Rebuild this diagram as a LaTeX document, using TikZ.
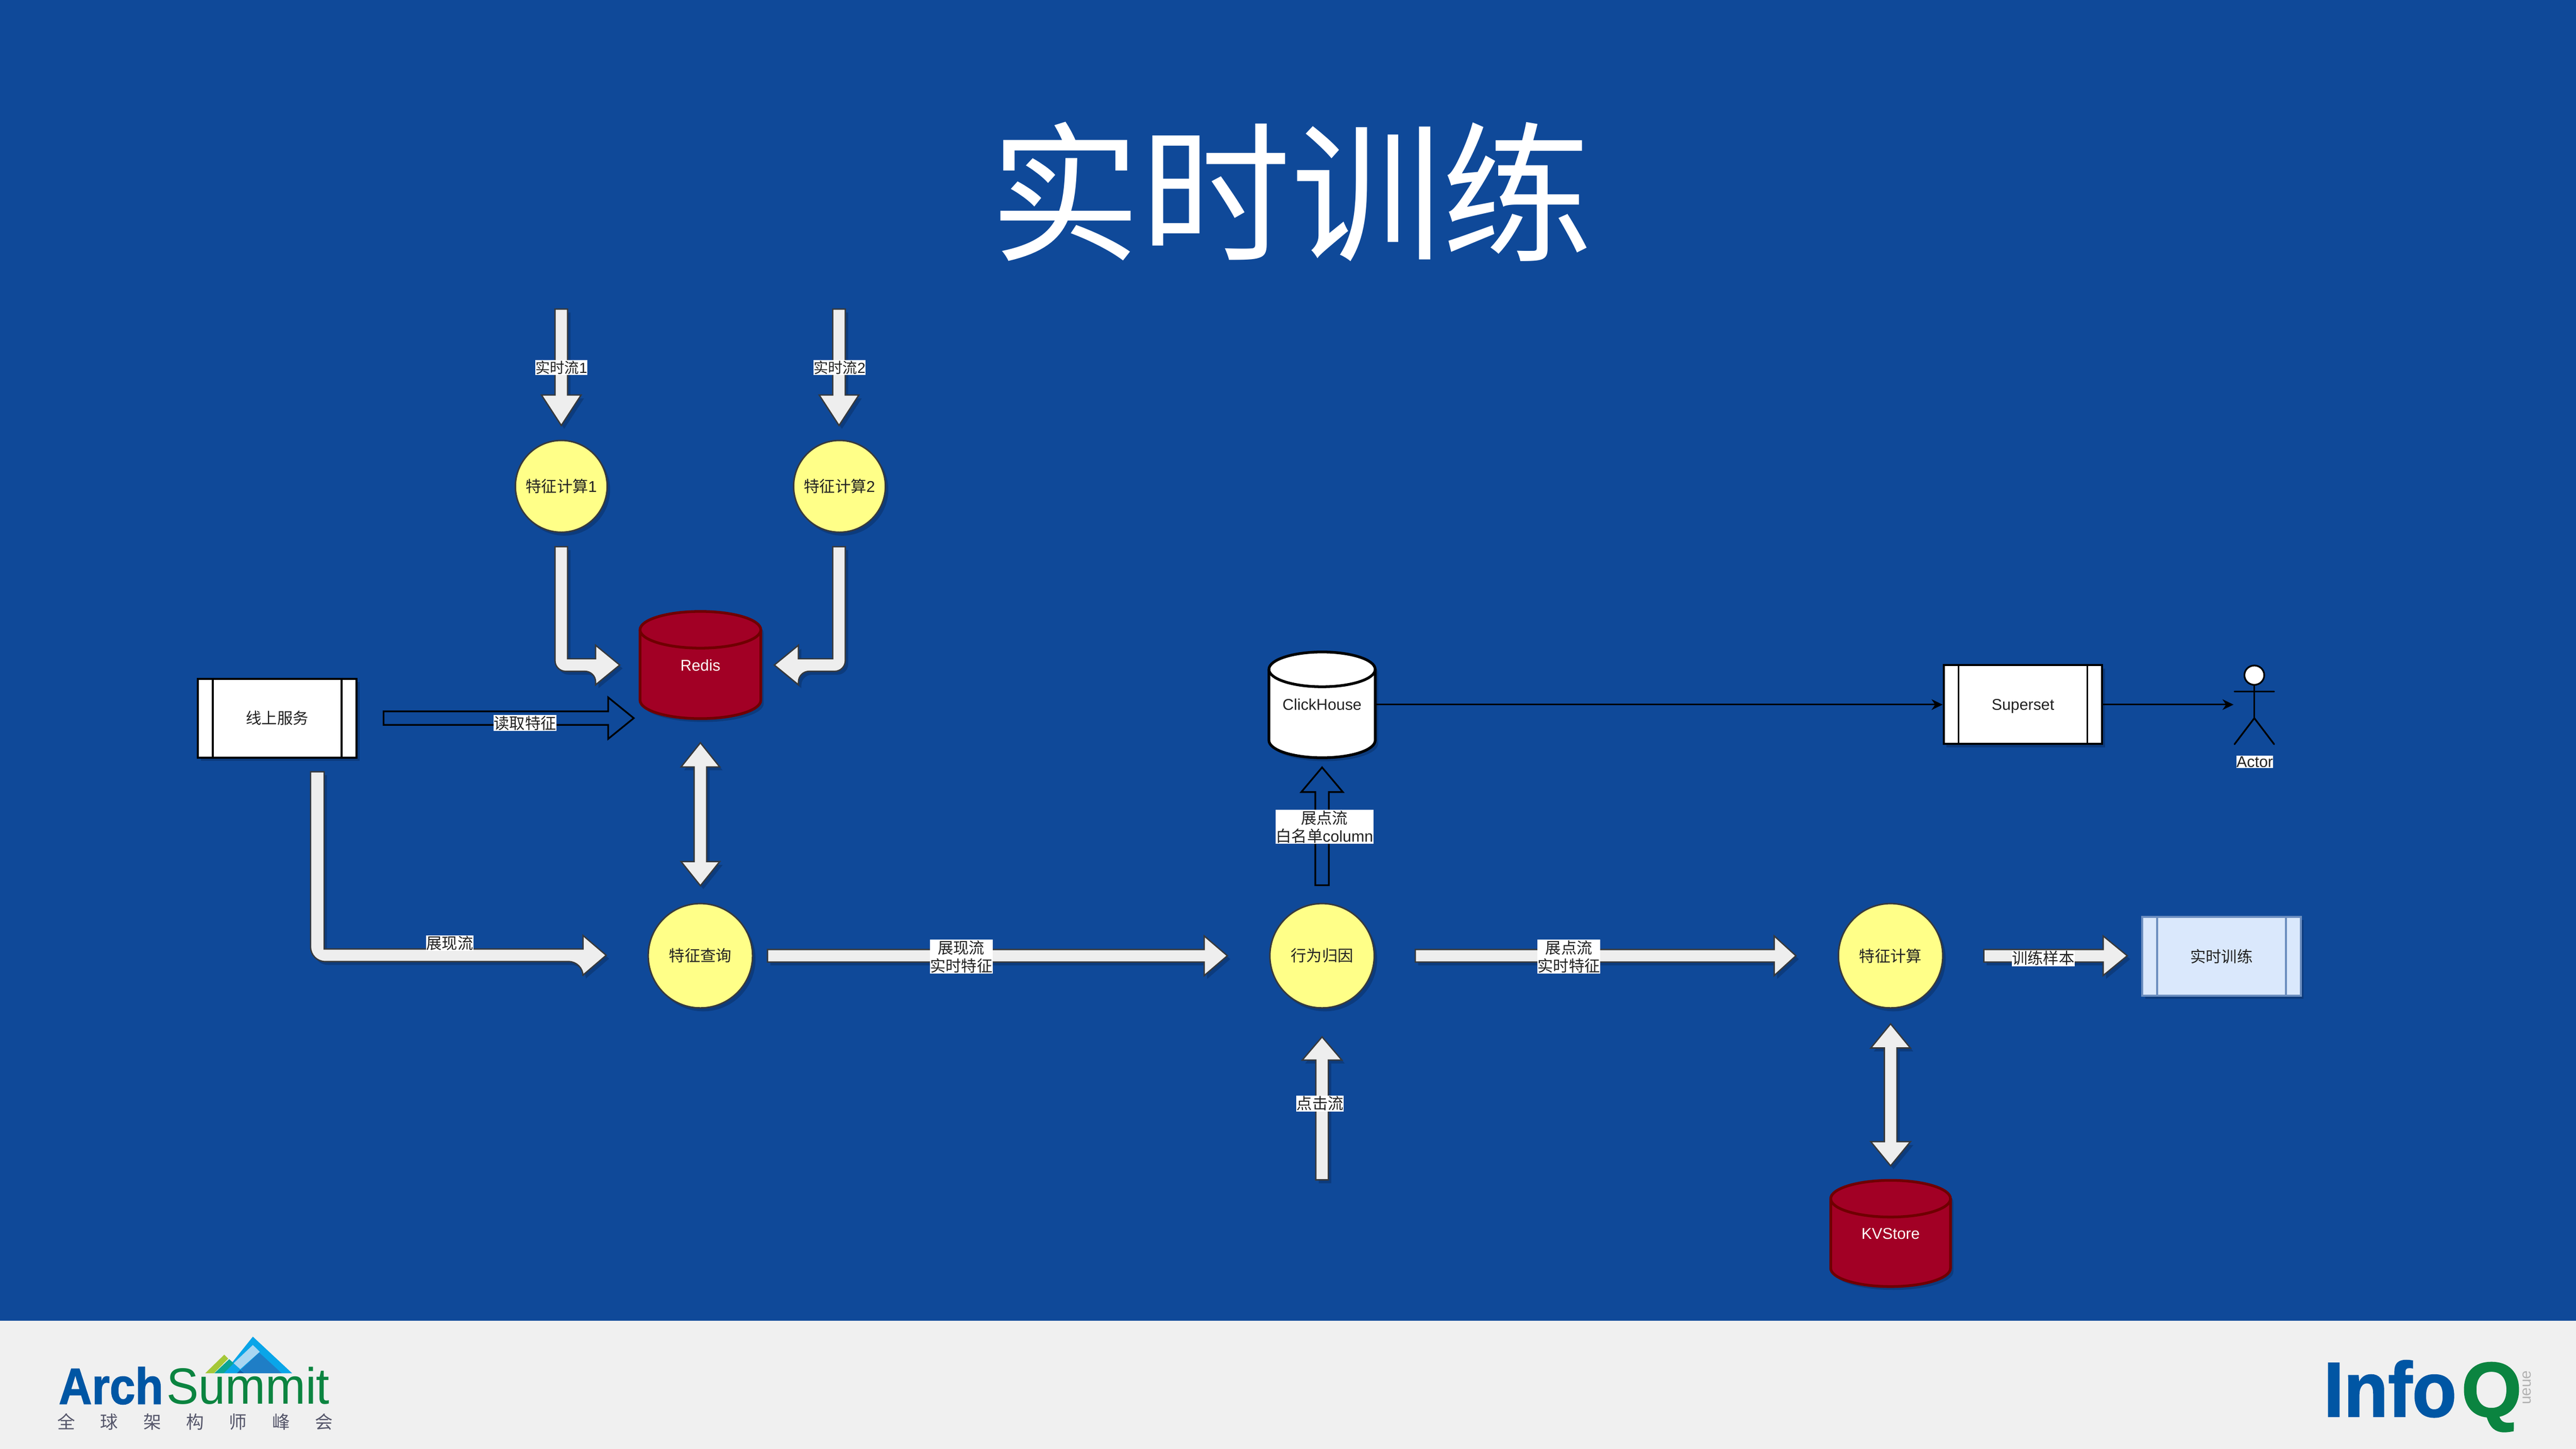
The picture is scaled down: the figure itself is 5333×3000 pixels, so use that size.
\documentclass[tikz,border=0pt]{standalone}
\usepackage{fontspec}
\usepackage{graphicx}
\setmainfont{Liberation Sans}
\newfontfamily\cjk{Noto Sans CJK SC}
\newfontfamily\heavy{Liberation Sans Bold}[FakeBold=1.6]
\usetikzlibrary{calc,shapes.geometric,arrows.meta,shadows}
\definecolor{bgblue}{HTML}{0F4999}
\definecolor{footbg}{HTML}{F0F0F0}
\definecolor{flexfill}{HTML}{EEEEEE}
\definecolor{flexline}{HTML}{36393D}
\definecolor{yellowfill}{HTML}{FFFF88}
\definecolor{crimson}{HTML}{A20025}
\definecolor{crimsonline}{HTML}{6F0000}
\definecolor{paleblue}{HTML}{DAE8FC}
\definecolor{paleline}{HTML}{6C8EBF}
\definecolor{archblue}{HTML}{0056A4}
\definecolor{archgreen}{HTML}{0B8440}
\definecolor{archgrey}{HTML}{55566A}
\definecolor{peaka}{HTML}{0AA5E8}
\definecolor{peakb}{HTML}{A9D6F1}
\definecolor{peakc}{HTML}{1F7EC6}
\definecolor{peakd}{HTML}{0F5FA8}
\definecolor{peake}{HTML}{0BA592}
\definecolor{peakf}{HTML}{A5C838}
\definecolor{inktext}{HTML}{222222}
\newcommand\zh[1]{{\cjk #1}}
\newcommand\ctr[1]{\makebox[0pt]{#1}}
\tikzset{
  softshadow/.style={general shadow={fill=black,opacity=.18,shadow xshift=.06cm,shadow yshift=-.07cm}},
  flex/.style={draw=flexline,fill=flexfill,line width=.8pt,line join=miter,softshadow},
  hollow/.style={draw=black,line width=1pt,fill=none,line join=miter},
  lab/.style={fill=white,inner xsep=.005cm,inner ysep=.015cm,align=center,text=inktext},
  disc/.style={ellipse,draw=flexline,fill=yellowfill,line width=.9pt,inner sep=0,minimum width=#1,minimum height=#1,text=inktext,softshadow},
  proc/.style={rectangle,draw=black,fill=white,line width=1.2pt,inner sep=0,minimum width=3.28cm,minimum height=1.63cm,text=inktext,softshadow},
  thinarrow/.style={draw=black,line width=.9pt,-{Stealth[length=.23cm,width=.22cm]}},
  stick/.style={draw=black,line width=1pt,line cap=round},
}
% straight block arrow: style, from, to, shaft half, head half, head length (pixels)
\newcommand\flexarrow[6][flex]{%
  \coordinate (fb) at ($(#3)!#6*0.01cm!(#2)$);
  \draw[#1] ($(#2)!#4*0.01cm!90:(#3)$) -- ($(fb)!#4*0.01cm!90:(#3)$) -- ($(fb)!#5*0.01cm!90:(#3)$)
    -- (#3) -- ($(fb)!#5*0.01cm!-90:(#3)$) -- ($(fb)!#4*0.01cm!-90:(#3)$) -- ($(#2)!#4*0.01cm!-90:(#3)$) -- cycle;}
% two-headed block arrow: from, to, shaft half, head half, head length
\newcommand\flexboth[5]{%
  \coordinate (fb) at ($(#2)!#5*0.01cm!(#1)$);
  \coordinate (fa) at ($(#1)!#5*0.01cm!(#2)$);
  \draw[flex] (#1) -- ($(fa)!#4*0.01cm!-90:(#2)$) -- ($(fa)!#3*0.01cm!-90:(#2)$) -- ($(fb)!#3*0.01cm!-90:(#2)$)
    -- ($(fb)!#4*0.01cm!-90:(#2)$) -- (#2) -- ($(fb)!#4*0.01cm!90:(#2)$) -- ($(fb)!#3*0.01cm!90:(#2)$)
    -- ($(fa)!#3*0.01cm!90:(#2)$) -- ($(fa)!#4*0.01cm!90:(#2)$) -- cycle;}
% cylinder: cx, top, bottom, rx, ry, fill, stroke
\newcommand\cyl[7]{%
  \draw[fill=#6,draw=#7,line width=1.6pt,softshadow]
    (#1-#4,#2+#5) arc[start angle=180,end angle=0,x radius=#4*0.01cm,y radius=#5*0.01cm]
    -- (#1+#4,#3-#5) arc[start angle=0,end angle=-180,x radius=#4*0.01cm,y radius=#5*0.01cm] -- cycle;
  \draw[draw=#7,line width=1.6pt] (#1-#4,#2+#5) arc[start angle=180,end angle=360,x radius=#4*0.01cm,y radius=#5*0.01cm];}
\newcommand\bars[3]{%
  \draw[draw=#2,line width=1.1pt] ([xshift=#3]#1.north west) -- ([xshift=#3]#1.south west);
  \draw[draw=#2,line width=1.1pt] ([xshift=-#3]#1.north east) -- ([xshift=-#3]#1.south east);}
\begin{document}
\begin{tikzpicture}[x=0.01cm,y=-0.01cm,font=\fontsize{9.2}{10.7}\selectfont]
\useasboundingbox (0,0) rectangle (5333,3000);
\fill[bgblue] (0,0) rectangle (5333,2735);
\fill[footbg] (0,2735) rectangle (5333,3000);

\node[text=white,inner sep=0,font=\fontsize{88.7}{95}\selectfont] (title) at (2673,397) {\zh{实时训练}};

% yellow circles
\node[disc=1.9cm] (calc1) at (1162,1007) {\ctr{\zh{特征计算}1}};
\node[disc=1.9cm] (calc2) at (1738,1007) {\ctr{\zh{特征计算}2}};
\node[disc=2.16cm] (query) at (1450,1979) {\ctr{\zh{特征查询}}};
\node[disc=2.16cm] (attr) at (2737,1979) {\ctr{\zh{行为归因}}};
\node[disc=2.16cm] (calc3) at (3914,1979) {\ctr{\zh{特征计算}}};

% cylinders
\cyl{1450}{1266}{1488}{125}{38}{crimson}{crimsonline}
\node[text=white,inner sep=0,minimum width=2.5cm] (redis) at (1450,1378) {Redis};
\cyl{2737}{1350}{1569}{110}{36}{white}{black}
\node[text=inktext,inner sep=0,minimum width=2.2cm] (clickhouse) at (2737,1459) {ClickHouse};
\cyl{3914}{2444}{2664}{124}{38}{crimson}{crimsonline}
\node[text=white,inner sep=0,minimum width=2.48cm] (kvstore) at (3914,2555) {KVStore};

% process boxes
\node[proc] (online) at (574,1487) {\zh{线上服务}};
\bars{online}{black}{.33cm}
\node[proc,text depth=0pt] (superset) at (4188,1459) {Superset};
\bars{superset}{black}{.33cm}
\node[proc,draw=paleline,fill=paleblue] (train) at (4599,1980) {\zh{实时训练}};
\bars{train}{paleline}{.33cm}

% actor
\node[ellipse,draw=black,fill=white,line width=1pt,inner sep=0,minimum width=.41cm,minimum height=.4cm] (head) at (4667,1398) {};
\coordinate (armL) at (4626,1432);
\coordinate (armR) at (4708,1432);
\coordinate (hip) at (4667,1487);
\coordinate (legL) at (4626,1541);
\coordinate (legR) at (4708,1541);
\draw[stick] (head.south) -- (hip);
\draw[stick] (armL) -- (armR);
\draw[stick] (legL) -- (hip) -- (legR);
\node[lab] (actorlabel) at (4668,1578) {Actor};

% thin connectors
\coordinate (actorin) at (4624,1459);
\draw[thinarrow] (clickhouse.east) -- (superset.west);
\draw[thinarrow] (superset.east) -- (actorin);

% straight block arrows
\coordinate (s1a) at (1162,640); \coordinate (s1b) at (1162,881);
\flexarrow{s1a}{s1b}{13}{41}{63}
\coordinate (s2a) at (1737,640); \coordinate (s2b) at (1737,881);
\flexarrow{s2a}{s2b}{13}{41}{63}
\coordinate (q1a) at (1589,1979); \coordinate (q1b) at (2541,1979);
\flexarrow{q1a}{q1b}{13}{41}{48}
\coordinate (q2a) at (2930,1979); \coordinate (q2b) at (3718,1979);
\flexarrow{q2a}{q2b}{13}{41}{45}
\coordinate (q3a) at (4107,1979); \coordinate (q3b) at (4404,1979);
\flexarrow{q3a}{q3b}{13}{41}{50}
\coordinate (cka) at (2737,2443); \coordinate (ckb) at (2737,2147);
\flexarrow{cka}{ckb}{13}{41}{48}

% two-headed block arrows
\coordinate (d1a) at (1450,1538); \coordinate (d1b) at (1450,1834);
\flexboth{d1a}{d1b}{13}{40}{50}
\coordinate (d2a) at (3914,2120); \coordinate (d2b) at (3914,2414);
\flexboth{d2a}{d2b}{13}{41}{50}

% bent block arrows
\coordinate (b1a) at (1162,1132); \coordinate (b1c) at (1162,1377); \coordinate (b1b) at (1283,1377);
\draw[flex] ($(b1a)+(-13,0)$) [rounded corners=.22cm] -- ($(b1c)+(-13,13)$) -- ($(b1b)+(-50,13)$) [sharp corners]
  -- ($(b1b)+(-50,41)$) -- (b1b) -- ($(b1b)+(-50,-41)$) -- ($(b1b)+(-50,-13)$) -- ($(b1c)+(13,-13)$) -- ($(b1a)+(13,0)$) -- cycle;
\coordinate (b2a) at (1737,1132); \coordinate (b2c) at (1737,1377); \coordinate (b2b) at (1603,1377);
\draw[flex] ($(b2a)+(13,0)$) [rounded corners=.22cm] -- ($(b2c)+(13,13)$) -- ($(b2b)+(50,13)$) [sharp corners]
  -- ($(b2b)+(50,41)$) -- (b2b) -- ($(b2b)+(50,-41)$) -- ($(b2b)+(50,-13)$) -- ($(b2c)+(-13,-13)$) -- ($(b2a)+(-13,0)$) -- cycle;
\coordinate (b3a) at (657,1598); \coordinate (b3c) at (657,1978); \coordinate (b3b) at (1255,1978);
\draw[flex] ($(b3a)+(-14,0)$) [rounded corners=.3cm] -- ($(b3c)+(-14,13)$) -- ($(b3b)+(-48,13)$) [sharp corners]
  -- ($(b3b)+(-48,41)$) -- (b3b) -- ($(b3b)+(-48,-41)$) -- ($(b3b)+(-48,-13)$) -- ($(b3c)+(14,-13)$) -- ($(b3a)+(14,0)$) -- cycle;

% hollow block arrows
\coordinate (h1a) at (794,1487); \coordinate (h1b) at (1312,1487);
\flexarrow[hollow]{h1a}{h1b}{14}{43}{53}
\coordinate (h2a) at (2737,1833); \coordinate (h2b) at (2737,1589);
\flexarrow[hollow]{h2a}{h2b}{14}{43}{51}

% labels
\node[lab,font=\fontsize{8.6}{10}\selectfont] (l1) at (1162,761) {\zh{实时流}1};
\node[lab,font=\fontsize{8.6}{10}\selectfont] (l2) at (1738,761) {\zh{实时流}2};
\node[lab] (l3) at (1087,1497) {\zh{读取特征}};
\node[lab] (l4) at (931,1953) {\zh{展现流}};
\node[lab] (l5) at (1990,1981) {\zh{展现流}\\\zh{实时特征}};
\node[lab] (l6) at (3248,1981) {\zh{展点流}\\\zh{实时特征}};
\node[lab] (l7) at (2742,1712) {\zh{展点流}\\\zh{白名单}column};
\node[lab] (l8) at (2733,2285) {\zh{点击流}};
\node[lab] (l9) at (4230,1984) {\zh{训练样本}};

% ArchSummit logo
\fill[peaka] (523.5,2767.7) -- (604.6,2843.3) -- (463,2843.3) -- cycle;
\fill[peakb] (523.5,2785) -- (537.8,2799) -- (497.4,2835) -- (483.7,2822.7) -- cycle;
\fill[peakc] (536.7,2800.7) -- (583,2843.3) -- (505,2843.3) -- (499,2836) -- cycle;
\fill[peakd] (497.4,2836.7) -- (505,2843.3) -- (490.8,2843.3) -- cycle;
\fill[peake] (474.5,2814.3) -- (483.7,2822.7) -- (463.3,2843.3) -- (443.9,2843.3) -- cycle;
\fill[peakf] (464.3,2805) -- (472.4,2813.3) -- (442.9,2843.3) -- (425,2843.3) -- cycle;
\node[anchor=base west,inner sep=0,text=archblue,font=\fontsize{30}{32}\heavy] (arch) at (121,2907) {\scalebox{.9}[1]{Arch}};
\node[anchor=base west,inner sep=0,text=archgreen,font=\fontsize{30}{32}\selectfont] (summit) at (344,2907) {\scalebox{.945}[1]{Summit}};
\node[inner sep=0,text=archgrey,font=\fontsize{10.5}{12}\selectfont] (archzh) at (404,2944) {\zh{全\hspace{14.8pt}球\hspace{14.8pt}架\hspace{14.8pt}构\hspace{14.8pt}师\hspace{14.8pt}峰\hspace{14.8pt}会}};

% InfoQ logo
\node[anchor=base west,inner sep=0,text=archblue,font=\fontsize{45.6}{48}\heavy] (info) at (4810,2933) {\scalebox{.935}[1]{Info}};
\node[anchor=base west,inner sep=0,text=archgreen,font=\fontsize{45.6}{48}\heavy] (q) at (5095,2933) {Q};
\node[inner sep=0,rotate=90,text=black!30,font=\fontsize{9}{11}\selectfont] (queue) at (5231,2873) {ueue};
\end{tikzpicture}
\end{document}
